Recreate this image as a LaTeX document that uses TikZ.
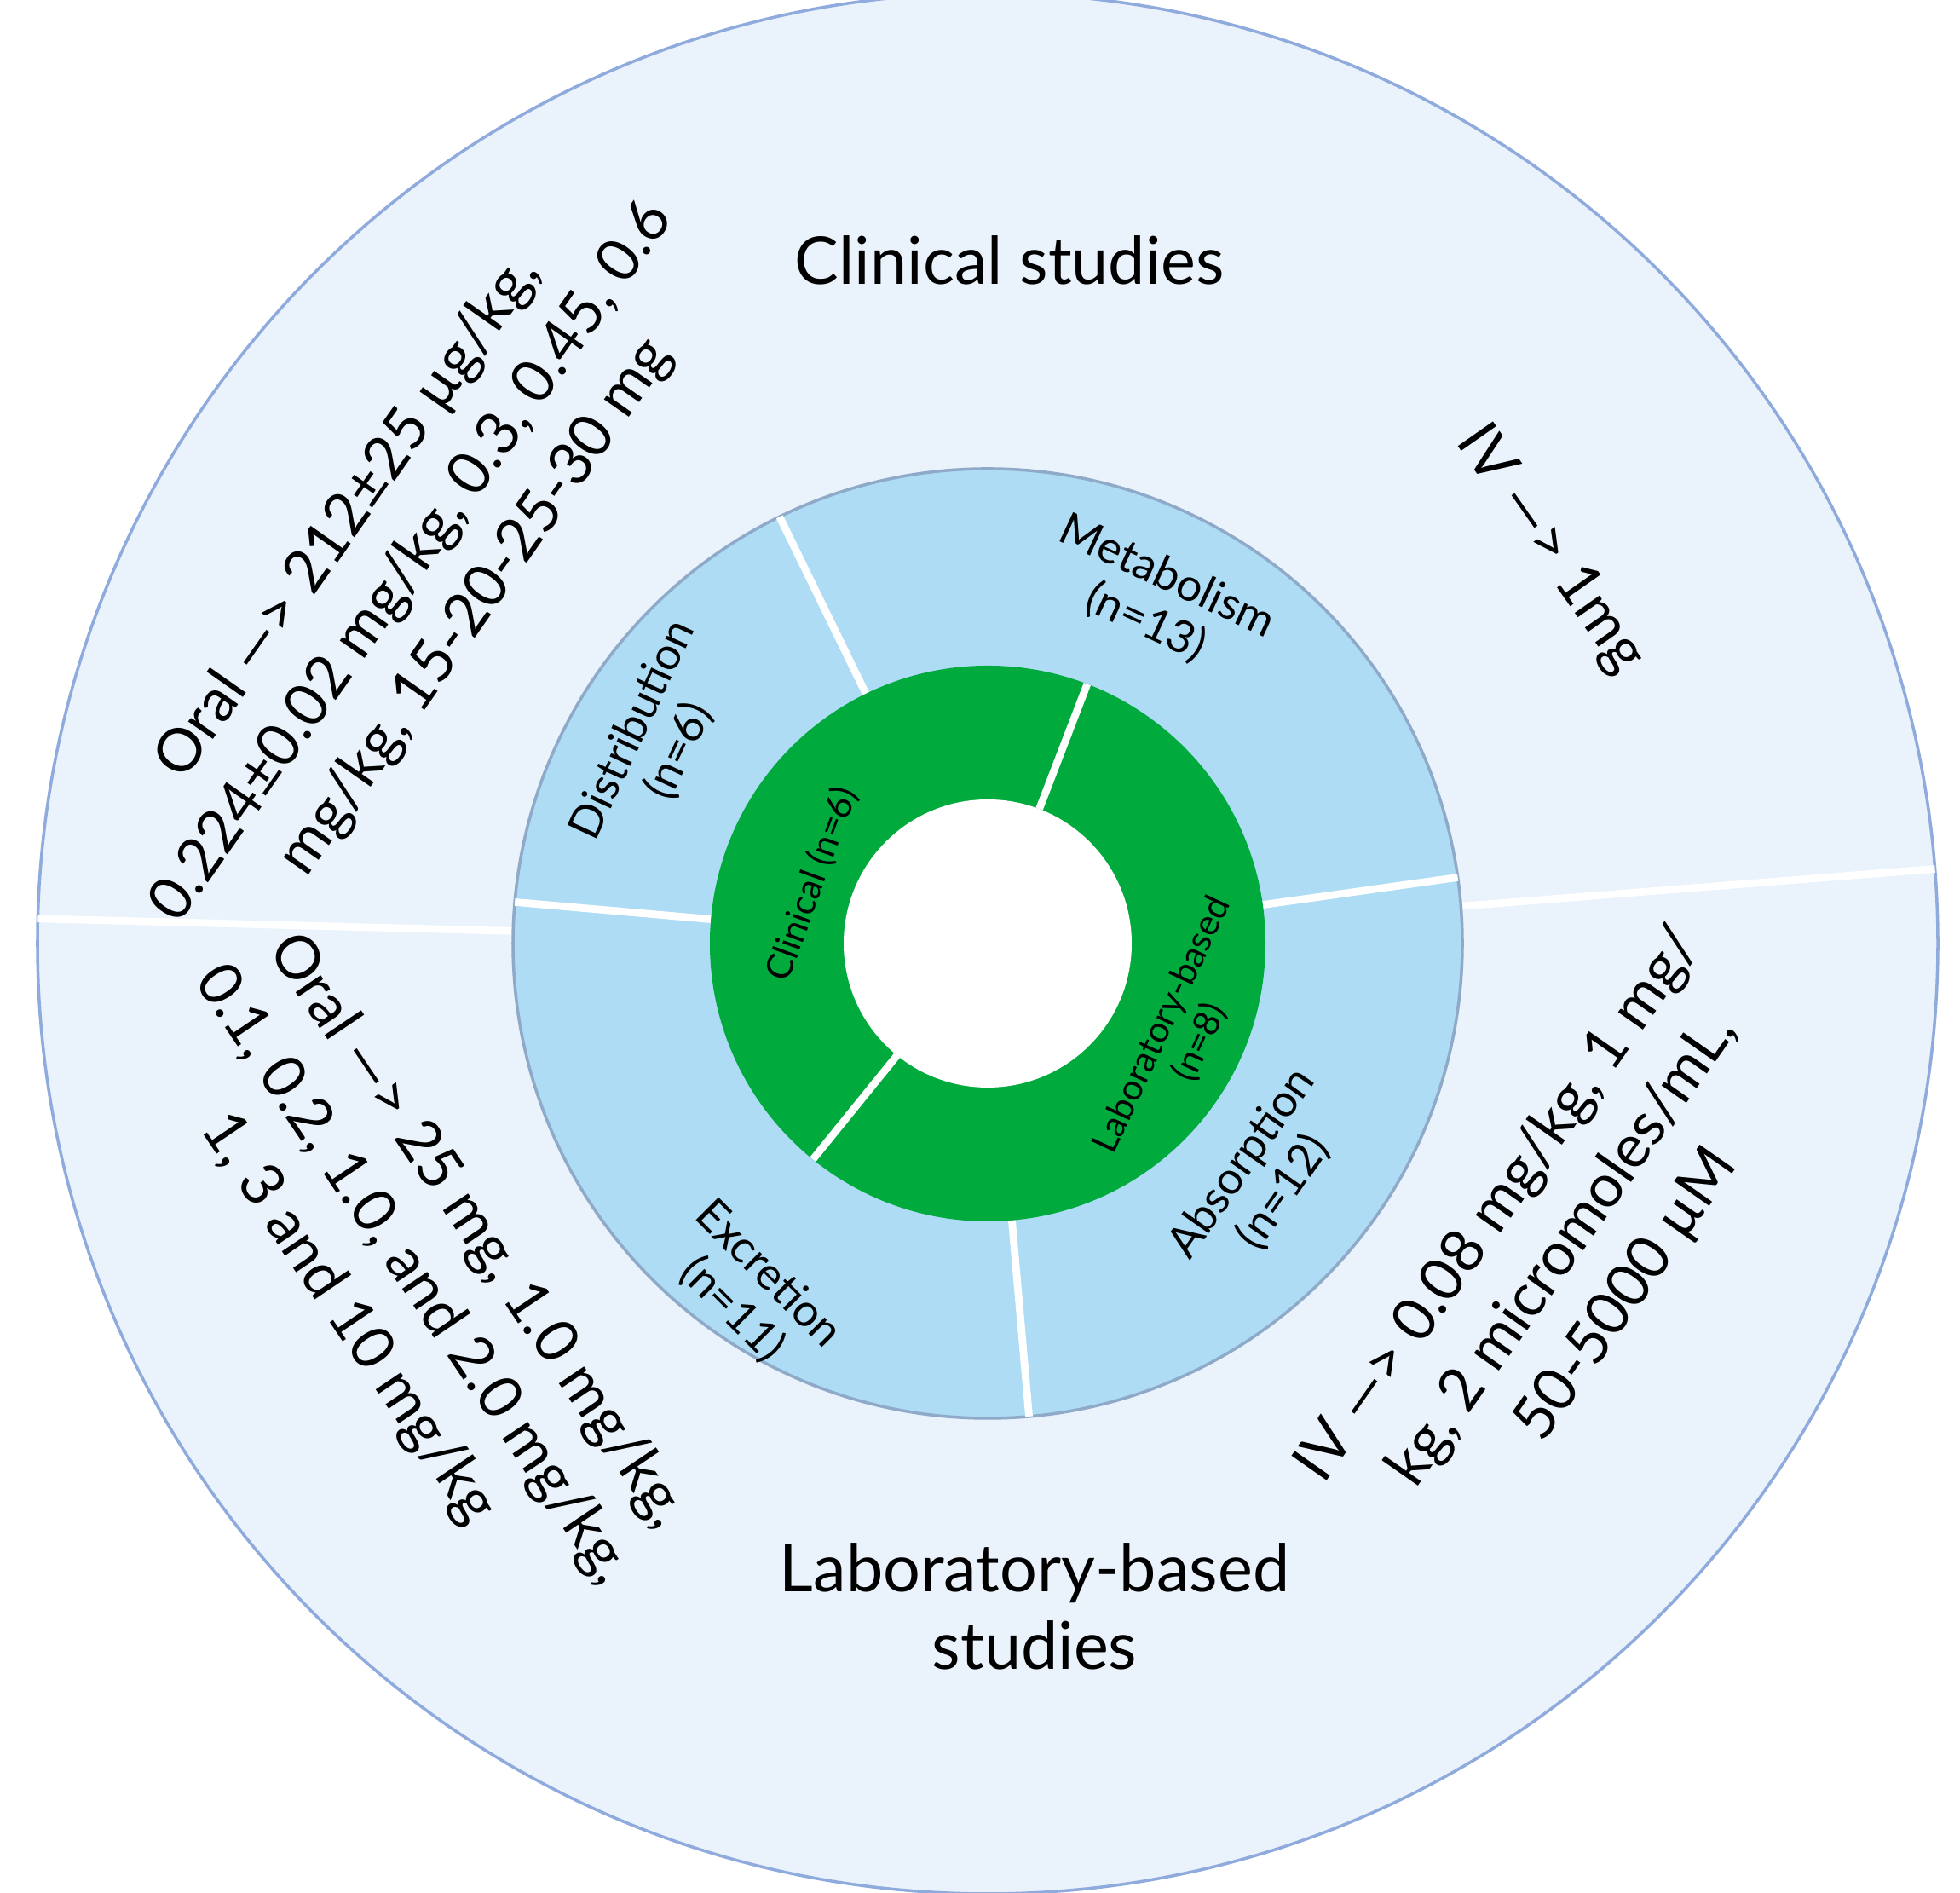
\documentclass[tikz,border=0pt]{standalone}
\usepackage{fontspec}
\setmainfont{Lato}
\usetikzlibrary{calc}
\definecolor{outerfill}{RGB}{234,242,251}
\definecolor{outerline}{RGB}{143,170,220}
\definecolor{midfill}{RGB}{173,220,244}
\definecolor{midline}{RGB}{143,170,200}
\definecolor{ringgreen}{RGB}{0,170,60}
\begin{document}
\begin{tikzpicture}[
  big/.style={font=\fontsize{22}{26}\selectfont, align=center},
  dose/.style={font=\fontsize{20}{26}\selectfont, align=center},
  ring/.style={font=\fontsize{15}{17}\selectfont, align=center},
  small/.style={font=\fontsize{12}{14}\selectfont, align=center},
  sep/.style={white, line width=2.5pt}]
\useasboundingbox (0,0) rectangle (23,22.21);
\coordinate (c) at (11.59,11.14);
\fill[fill=outerfill, draw=outerline, line width=1pt] (c) circle (11.15);
\draw[sep] ($(c)+(4.5:5.57)$) -- ($(c)+(4.5:11.15)$);
\draw[sep] ($(c)+(178.5:5.57)$) -- ($(c)+(178.5:11.15)$);
\fill[fill=midfill, draw=midline, line width=1pt] (c) circle (5.57);
\foreach \a in {116,8,175,-85} \draw[sep] ($(c)+(\a:3.26)$) -- ($(c)+(\a:5.57)$);
\fill[ringgreen] (c) circle (3.26);
\foreach \a in {69,231} \draw[sep] ($(c)+(\a:1.69)$) -- ($(c)+(\a:3.26)$);
\fill[white] (c) circle (1.69);
\node[big] (cs) at (11.85,19.16) {Clinical studies};
\node[big] (ls) at (12.14,3.36) {Laboratory-based\\studies};
\node[dose, rotate=55] (o1) at (4.84,15.61) {Oral ---> 212±25 µg/kg,\\0.224±0.02 mg/kg, 0.3, 0.45, 0.6\\mg/kg, 15-20-25-30 mg};
\node[dose, rotate=-55] (i1) at (18.19,15.76) {IV ---> 1mg};
\node[dose, rotate=-56] (o2) at (4.84,7.25) {Oral ---> 25 mg, 1.0 mg/kg,\\0.1, 0.2, 1.0, and 2.0 mg/kg,\\1, 3 and 10 mg/kg};
\node[dose, rotate=55] (i2) at (18.34,7.54) {IV ---> 0.08 mg/kg, 1 mg/\\kg, 2 micromoles/mL,\\50-5000 µM};
\node[ring, rotate=-25] (m) at (13.57,15.17) {Metabolism\\(n=13)};
\node[ring, rotate=65] (d) at (7.70,13.52) {Distribution\\(n=6)};
\node[ring, rotate=-45] (e) at (8.80,7.05) {Excretion\\(n=11)};
\node[ring, rotate=55] (ab) at (14.82,8.39) {Absorption\\(n=12)};
\node[small, rotate=70] (cl) at (9.53,11.84) {Clinical (n=6)};
\node[small, rotate=65] (lb) at (13.86,10.08) {Laboratory-based\\(n=8)};
\end{tikzpicture}
\end{document}
